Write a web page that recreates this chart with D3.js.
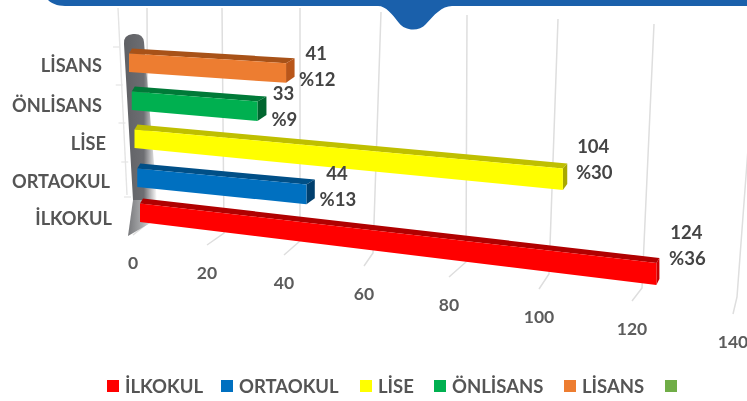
<!DOCTYPE html>
<html><head><meta charset="utf-8">
<script src="https://cdnjs.cloudflare.com/ajax/libs/d3/7.8.5/d3.min.js"></script>
<style>html,body{margin:0;padding:0;background:#fff}svg{display:block;filter:blur(.7px)}
text{font-family:Lato,"Open Sans",sans-serif;font-weight:700}</style></head><body>
<svg id="c" width="747" height="401"></svg>
<script>
const categories = ["İLKOKUL","ORTAOKUL","LİSE","ÖNLİSANS","LİSANS"];
const values = [124,44,104,33,41];
const percents = ["%36","%13","%30","%9","%12"];
const ticks = [0,20,40,60,80,100,120,140];
const legendLabels = ["İLKOKUL","ORTAOKUL","LİSE","ÖNLİSANS","LİSANS",""];
const frontColors = ["#ff0000","#0070c0","#ffff00","#00b050","#ed7d31"];
const topColors = ["#b00000","#004f87","#bfbf00","#007a38","#a85218"];
const sideColors = ["#c80000","#003f6e","#a8a800","#00662f","#b9561a"];
const legendColors = [...frontColors,"#70ad47"];

const svg = d3.select("#c");
const defs = svg.append("defs");
const g = defs.append("linearGradient").attr("id","wall").attr("x1",0).attr("x2",1).attr("y1",0).attr("y2",0);
g.append("stop").attr("offset",0).attr("stop-color","#5f6064");
g.append("stop").attr("offset",.6).attr("stop-color","#6d6e72");
g.append("stop").attr("offset",1).attr("stop-color","#ffffff");
const g2 = defs.append("linearGradient").attr("id","wallb").attr("x1",0).attr("x2",1).attr("y1",0).attr("y2",0);
g2.append("stop").attr("offset",0).attr("stop-color","#77787b");
g2.append("stop").attr("offset",.5).attr("stop-color","#a9aaac");
g2.append("stop").attr("offset",1).attr("stop-color","#ffffff");

// perspective scales: axis ticks
const xTop = d3.scaleLinear().domain(ticks).range([147,222,300,381,467,558,654,757]);
const yTop = d3.scaleLinear().domain(ticks).range([8,8,8,12,15,19,24,28]);
const xCorner = d3.scaleLinear().domain(ticks).range([148,224,300,373,466,549,642,737]);
const yCorner = d3.scaleLinear().domain(ticks).range([223,233,241,253,262,274,288,297]);
const xLabel = d3.scaleLinear().domain(ticks).range([133,207,284,364,449,539,632,733]);
const yLabel = d3.scaleLinear().domain(ticks).range([263,273,283,294,305,317,329,342]);

// grid
const gridLine = d3.line();
svg.append("g").selectAll("path").data(ticks).join("path")
  .attr("d",v=>gridLine([[xTop(v),yTop(v)],[xCorner(v),yCorner(v)],[xLabel(v),yLabel(v)-28]]))
  .attr("fill","none").attr("stroke","#dedede").attr("stroke-width",1.5);
// side wall back edge and category ticks
svg.append("path").attr("d","M118,8L127,195").attr("stroke","#e4e4e4").attr("stroke-width",1.4).attr("fill","none");

// bar front plane
const rows = d3.range(categories.length);
const rowX = d3.scaleLinear().domain([0,4]).range([140,129]);
const rowY = d3.scaleLinear().domain(rows).range([222,187,148,110,72]);
const rowSlope = d3.scaleLinear().domain(rows).range([.122,.102,.098,.087,.069]);
const len = d3.scaleLinear().domain(ticks).range([0,75,153,234,320,411,498,590]);
const depthX = d3.scaleLinear().domain([126,516]).range([9,3]).clamp(true);
const labelDx = d3.scaleLinear().domain([126,159,429,516]).range([17,22,26,27]);
const labelDy = d3.scaleLinear().domain([126,167,429,516]).range([-3,-6,-17,-26]);
const faceH = l => 18.5+.007*l;
const depthY = 5;

svg.append("g").selectAll("path").data(rows).join("path")
  .attr("d",i=>{const y=rowY(i)-25;return `M${rowX(i)-16},${y}h7`})
  .attr("stroke","#e4e4e4").attr("stroke-width",1.2);

// wall
svg.append("path").attr("d","M124,44Q123,35 133,34Q143,33 144,42L157,200L133,200Z").attr("fill","url(#wall)");
svg.append("path").attr("d","M133,200L156,200L152,222L128,236Z").attr("fill","url(#wallb)");

const line = d3.line().curve(d3.curveLinearClosed);
const bars = svg.append("g").selectAll("g").data(rows.slice().reverse()).join("g");
bars.each(function(i){
  const el=d3.select(this), L=len(values[i]), x0=rowX(i), x1=x0+L;
  const yb0=rowY(i), yb1=yb0+rowSlope(i)*L;
  const yt0=yb0-faceH(0), yt1=yb1-faceH(L);
  const dx=depthX(L);
  el.append("path").attr("d",line([[x0,yt0],[x1,yt1],[x1+dx,yt1-depthY],[x0+3,yt0-depthY]])).attr("fill",topColors[i]);
  el.append("path").attr("d",line([[x1,yt1],[x1+dx,yt1-depthY],[x1+dx,yb1-depthY-1],[x1,yb1]])).attr("fill",sideColors[i]);
  el.append("path").attr("d",line([[x0,yb0],[x0,yt0],[x1,yt1],[x1,yb1]])).attr("fill",frontColors[i]);
  const cx=x1+dx+labelDx(L), cy=yt1-depthY+labelDy(L);
  el.append("text").attr("x",cx).attr("y",cy).attr("dy","0.36em").attr("text-anchor","middle")
    .attr("font-size",18.5).attr("fill","#444").text(values[i]);
  el.append("text").attr("x",cx+1).attr("y",cy+26).attr("dy","0.36em").attr("text-anchor","middle")
    .attr("font-size",18.5).attr("fill","#444").text(percents[i]);
});

// category labels
const catX = d3.scaleLinear().domain(rows).range([112,110,106,102,102]);
const catY = d3.scaleLinear().domain(rows).range([218,181,143,105,65]);
svg.append("g").selectAll("text").data(rows).join("text")
  .attr("x",i=>catX(i)).attr("y",i=>catY(i)).attr("dy","0.36em").attr("text-anchor","end")
  .attr("font-size",18.2).attr("fill","#555").text(i=>categories[i]);

// axis tick labels
svg.append("g").selectAll("text").data(ticks).join("text")
  .attr("x",v=>xLabel(v)).attr("y",yLabel).attr("dy","0.36em").attr("text-anchor","middle")
  .attr("font-size",17.5).attr("fill","#5c5c5c").text(v=>v);

// legend
const legendX = d3.scaleOrdinal().domain(d3.range(6)).range([107,221,360,434,564,665]);
const lg = svg.append("g").selectAll("g").data(d3.range(6)).join("g").attr("transform",i=>`translate(${legendX(i)},386)`);
lg.append("rect").attr("y",-6).attr("width",12).attr("height",12).attr("fill",i=>legendColors[i]);
lg.append("text").attr("x",18).attr("dy","0.36em").attr("font-size",18.5).attr("fill","#555").text(i=>legendLabels[i]);

// header band
svg.append("path").attr("d","M48,0C53,5 60,6 68,6L378,6C386,6 392,14 399,23C405,31 419,32 426,24C434,15 442,6 452,6L747,6L747,0Z").attr("fill","#1a60ab");
</script></body></html>
